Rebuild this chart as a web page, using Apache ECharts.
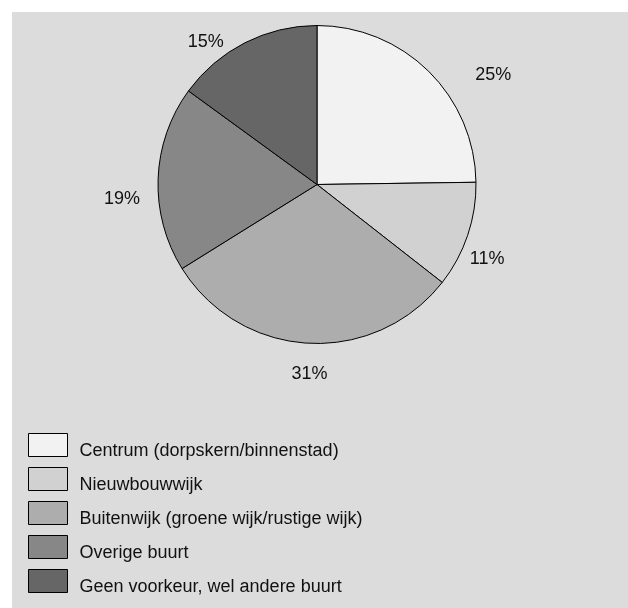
<!DOCTYPE html>
<html>
<head>
<meta charset="utf-8">
<script src="https://cdn.jsdelivr.net/npm/echarts@6/dist/echarts.min.js"></script>
<style>
    html, body { margin: 0; padding: 0; background: #ffffff; }
    #chart { position: absolute; left: 12px; top: 12px; width: 616px; height: 596px; }
</style>
</head>
<body>
<div id="chart"></div>
<script>
const categories = [
    'Centrum (dorpskern/binnenstad)',
    'Nieuwbouwwijk',
    'Buitenwijk (groene wijk/rustige wijk)',
    'Overige buurt',
    'Geen voorkeur, wel andere buurt',
]
const shares = [24.8, 10.8, 30.6, 18.9, 15.0]
const percentLabels = ['25%', '11%', '31%', '19%', '15%']
const sliceColors = ['#f2f2f2', '#d1d1d1', '#adadad', '#878787', '#666666']

// small shifts so the % labels sit where the original put them
const labelNudges = [[29, 17], [-20, 18], [25, 13], [5, 21], [-8, 15]]

function drawPie() {
    var myChart = echarts.init(document.getElementById('chart'))
    var option

    var data = []
    for (var i = 0; i < categories.length; i++) {
        data.push({
            name: categories[i],
            value: shares[i],
            itemStyle: { color: sliceColors[i] },
        })
    }

    option = {
        backgroundColor: '#dcdcdc',
        animation: false,
        legend: {
            orient: 'vertical',
            left: 16,
            top: 418,
            padding: 0,
            icon: 'rect',
            itemWidth: 39,
            itemHeight: 23,
            itemGap: 4,
            selectedMode: false,
            itemStyle: {
                borderColor: '#000',
                borderWidth: 1,
            },
            formatter: '{t|{name}}',
            textStyle: {
                fontFamily: 'Liberation Sans, Arial, sans-serif',
                fontSize: 18,
                color: '#111',
                padding: [0, 0, 0, 7],
                rich: {
                    t: {
                        fontFamily: 'Liberation Sans, Arial, sans-serif',
                        fontSize: 18,
                        color: '#111',
                        lineHeight: 23,
                        padding: [12, 0, 0, 0],
                    },
                },
            },
            data: categories,
        },
        series: [
            {
                type: 'pie',
                center: [305, 172.5],
                radius: 159,
                startAngle: 90,
                clockwise: true,
                data: data,
                itemStyle: {
                    borderColor: '#000',
                    borderWidth: 1,
                },
                emphasis: { disabled: true },
                label: {
                    show: true,
                    position: 'outside',
                    alignTo: 'none',
                    fontFamily: 'Liberation Sans, Arial, sans-serif',
                    fontSize: 18,
                    color: '#111',
                    formatter: function (p) {
                        return percentLabels[p.dataIndex]
                    },
                },
                labelLine: {
                    show: false,
                    length: 18,
                    length2: 0,
                },
                labelLayout: function (params) {
                    var n = labelNudges[params.dataIndex]
                    return { dx: n[0], dy: n[1] }
                },
            },
        ],
    }

    option && myChart.setOption(option)
}

drawPie()
</script>
</body>
</html>
